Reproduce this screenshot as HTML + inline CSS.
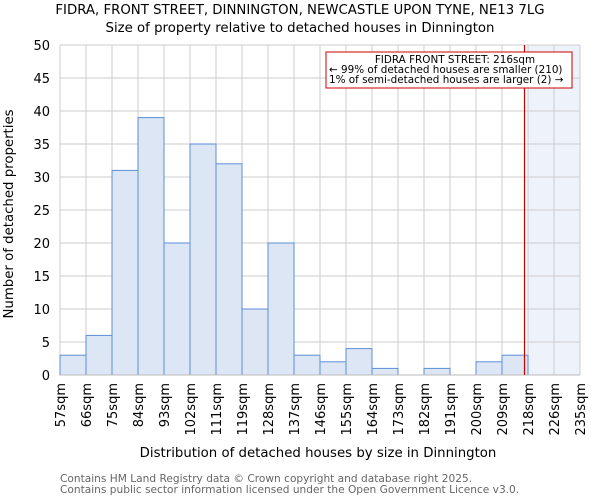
<!DOCTYPE html>
<html><head><meta charset="utf-8"><style>
body{margin:0;background:#fff;font-family:"DejaVu Sans","Liberation Sans",sans-serif;}
svg text{font-family:"DejaVu Sans","Liberation Sans",sans-serif;}
</style></head><body>
<svg id="chart" width="600" height="500" xmlns="http://www.w3.org/2000/svg">
<text x="300" y="14" text-anchor="middle" font-size="13.3" fill="#000">FIDRA, FRONT STREET, DINNINGTON, NEWCASTLE UPON TYNE, NE13 7LG</text>
<text x="300" y="32" text-anchor="middle" font-size="13.3" fill="#000">Size of property relative to detached houses in Dinnington</text>
<g id="grid"></g>
<g id="bars"></g>
<g id="axes"></g>
<text x="318" y="457" text-anchor="middle" font-size="13.3" fill="#000">Distribution of detached houses by size in Dinnington</text>
<text transform="translate(13,214) rotate(-90)" text-anchor="middle" font-size="13.3" fill="#000">Number of detached properties</text>
<text x="60" y="482" font-size="10.6" fill="#666">Contains HM Land Registry data © Crown copyright and database right 2025.</text>
<text x="60" y="493" font-size="10.6" fill="#666">Contains public sector information licensed under the Open Government Licence v3.0.</text>
</svg>
<script>
const binLabels=["57sqm","66sqm","75sqm","84sqm","93sqm","102sqm","111sqm","119sqm","128sqm","137sqm","146sqm","155sqm","164sqm","173sqm","182sqm","191sqm","200sqm","209sqm","218sqm","226sqm","235sqm"];
const counts=[3,6,31,39,20,35,32,10,20,3,2,4,1,0,1,0,2,3,0,0];
const yTicks=[0,5,10,15,20,25,30,35,40,45,50];
const minSize=57, maxSize=235, propertySize=216;
const X0=60,X1=580,Y0=375,Y1=45,yMax=50;
const NS="http://www.w3.org/2000/svg";
const xi=i=>X0+i*(X1-X0)/counts.length;
const xv=v=>X0+(v-minSize)/(maxSize-minSize)*(X1-X0);
const y=v=>Y0-v/yMax*(Y0-Y1);
function mk(tag,attrs,parent){const e=document.createElementNS(NS,tag);for(const k in attrs)e.setAttribute(k,attrs[k]);parent.appendChild(e);return e;}
const grid=document.getElementById('grid'),bars=document.getElementById('bars'),axes=document.getElementById('axes');
const px=xv(propertySize);
const hiIdx=Math.ceil((px-X0)/((X1-X0)/counts.length));
const sh=mk('rect',{x:xi(hiIdx),y:Y1,width:X1-xi(hiIdx),height:Y0-Y1,fill:'#eef2fb'},grid);


yTicks.forEach(t=>{
 const l=mk('line',{x1:X0,x2:X1,y1:y(t),y2:y(t),stroke:'#cccccc'},grid);
 
 
 const tx=mk('text',{x:X0-10,y:y(t)+5,'text-anchor':'end','font-size':'13',fill:'#000'},axes);
 tx.textContent=t;
 
 
});
binLabels.forEach((lab,i)=>{
 const l=mk('line',{x1:xi(i),x2:xi(i),y1:Y1,y2:Y0,stroke:'#cccccc'},grid);
 
 
 const tx=mk('text',{transform:`translate(${xi(i)+5},383) rotate(-90)`,'text-anchor':'end','font-size':'13',fill:'#000'},axes);
 tx.textContent=lab;
 
 
});
counts.forEach((c,i)=>{
 if(c<=0)return;
 const r=mk('rect',{x:xi(i),y:y(c),width:xi(i+1)-xi(i),height:Y0-y(c),fill:'#dce6f4',stroke:'#5b8fd8','stroke-width':1},bars);
 
 
});
const bl=mk('line',{x1:X0,x2:X1,y1:Y0,y2:Y0,stroke:'#bbb'},axes);


const rl=mk('line',{x1:px,x2:px,y1:Y1,y2:Y0,stroke:'#cc0000','stroke-width':1.2},axes);


const box=mk('rect',{x:326,y:52,width:246,height:36,fill:'#fff',stroke:'#cc0000','stroke-width':1},axes);


["FIDRA FRONT STREET: 216sqm","← 99% of detached houses are smaller (210)","1% of semi-detached houses are larger (2) →"].forEach((s,i)=>{
 const t=mk('text',{x:i==0?455:329,y:63+i*10,'text-anchor':i==0?'middle':'start','font-size':'10.4',fill:'#000'},axes);
 t.textContent=s;
 
 
});
</script>
</body></html>
